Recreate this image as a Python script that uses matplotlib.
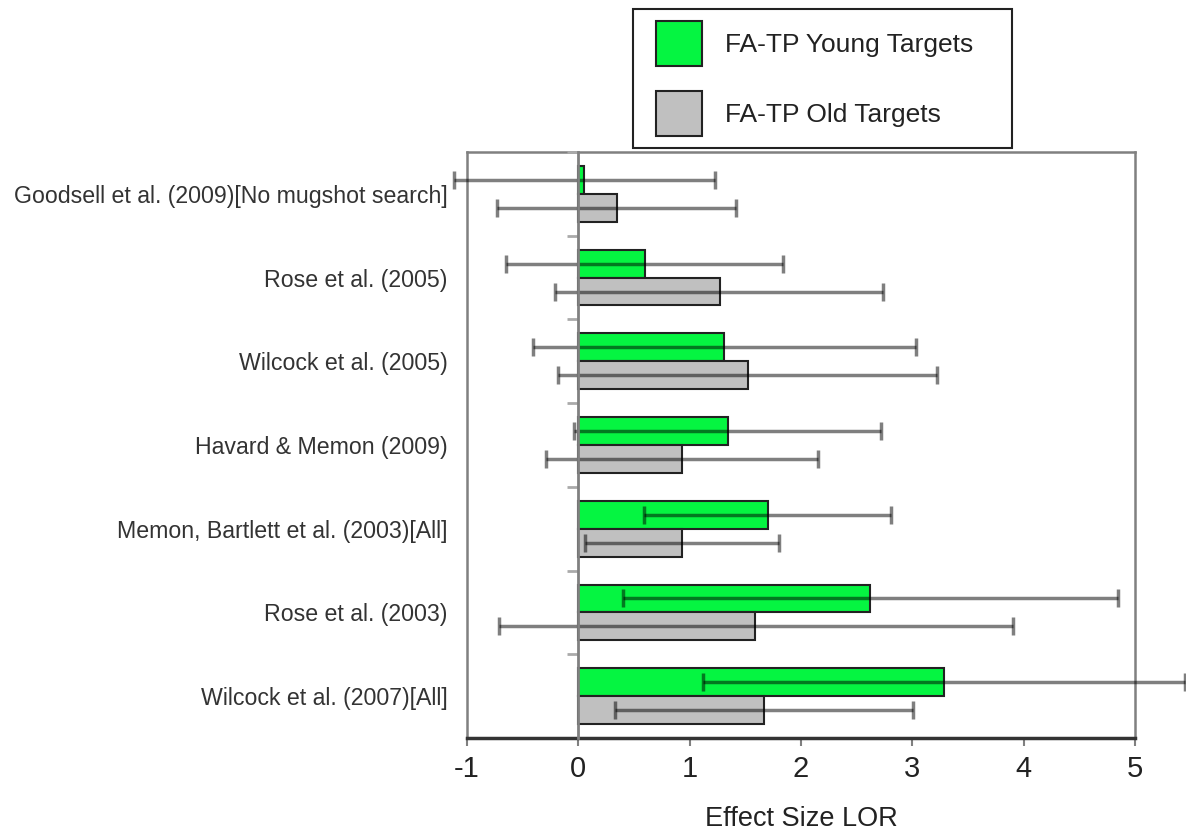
import numpy as np
import matplotlib
matplotlib.use('Agg')
import matplotlib.pyplot as plt
from matplotlib.patches import Patch, Rectangle
from matplotlib.legend_handler import HandlerPatch

plt.rcParams['font.family'] = ['Liberation Sans', 'DejaVu Sans']
plt.rcParams['axes.unicode_minus'] = False

studies = ['Goodsell et al. (2009)[No mugshot search]',
           'Rose et al. (2005)',
           'Wilcock et al. (2005)',
           'Havard & Memon (2009)',
           'Memon, Bartlett et al. (2003)[All]',
           'Rose et al. (2003)',
           'Wilcock et al. (2007)[All]']

# Effect sizes (log odds ratio) with lower / upper confidence limits
young_lor = [0.05, 0.60, 1.31, 1.34, 1.70, 2.62, 3.28]
young_lo = [-1.12, -0.65, -0.41, -0.04, 0.59, 0.40, 1.12]
young_hi = [1.23, 1.84, 3.03, 2.72, 2.81, 4.85, 5.45]

old_lor = [0.35, 1.27, 1.52, 0.93, 0.93, 1.59, 1.67]
old_lo = [-0.73, -0.21, -0.18, -0.29, 0.06, -0.71, 0.33]
old_hi = [1.42, 2.74, 3.22, 2.15, 1.80, 3.90, 3.01]

x_ticks = [-1, 0, 1, 2, 3, 4, 5]

green = '#05f541'
grey = '#c0c0c0'
frame_col = '#808080'

fig = plt.figure(figsize=(11.86, 8.38), dpi=100)
ax = fig.add_axes([0.3938, 0.1193, 0.5632, 0.6993])

y = np.arange(len(studies))
h = 1 / 3

series = [(young_lor, young_lo, young_hi, green, y - h / 2),
          (old_lor, old_lo, old_hi, grey, y + h / 2)]
for lor, lo, hi, col, ypos in series:
    lor = np.array(lor)
    err = [lor - np.array(lo), np.array(hi) - lor]
    ax.barh(ypos, lor, height=h, color=col, edgecolor='#222222',
            linewidth=1.5, zorder=2)
    eb = ax.errorbar(lor, ypos, xerr=err, fmt='none', ecolor='black',
                     alpha=0.5, elinewidth=2.5, capsize=6.5, capthick=2.5,
                     zorder=3)
    for art in list(eb.lines[1]) + list(eb.lines[2]):
        art.set_clip_on(False)

ax.set_xlim(-1, 5)
ax.set_ylim(len(studies) - 0.5, -0.5)

ax.set_yticks(y)
ax.set_yticklabels(studies, fontsize=16.7, color='#333333')
ax.tick_params(axis='y', length=0, pad=14)
ax.set_xticks(x_ticks)
ax.set_xticklabels([str(v) for v in x_ticks])
ax.tick_params(axis='x', labelsize=21, length=6, width=1.5, color=frame_col,
               pad=6, labelcolor='#222222')
ax.set_xlabel('Effect Size LOR', fontsize=19.5, labelpad=17, color='#222222')

for side in ['left', 'top', 'right']:
    ax.spines[side].set_color(frame_col)
    ax.spines[side].set_linewidth(1.8)
ax.spines['bottom'].set_color('#333333')
ax.spines['bottom'].set_linewidth(2.5)

# zero line with separator ticks between studies
ax2 = ax.twinx()
ax2.set_ylim(ax.get_ylim())
for side in ['top', 'right', 'bottom']:
    ax2.spines[side].set_visible(False)
ax2.spines['left'].set_position(('data', 0))
ax2.spines['left'].set_color(frame_col)
ax2.spines['left'].set_linewidth(2)
ax2.yaxis.set_ticks_position('left')
ax2.set_yticks(np.arange(-0.5, len(studies) - 0.5, 1))
ax2.set_yticklabels([])
ax2.tick_params(axis='y', length=8, width=2, color='#aaaaaa')


def shifted_patch(legend, orig_handle, xdescent, ydescent, width, height, fontsize):
    off = 8
    return Rectangle((-xdescent + off, -ydescent), width - off, height)


handles = [Patch(facecolor=green, edgecolor='#222222', linewidth=1.5),
           Patch(facecolor=grey, edgecolor='#222222', linewidth=1.5)]
leg = fig.legend(handles, ['FA-TP Young Targets', 'FA-TP Old Targets'],
                 loc='lower left', bbox_to_anchor=(0.5337, 0.8234, 0.3196, 0.165),
                 mode='expand', borderaxespad=0, fontsize=19,
                 handlelength=2.16, handleheight=2.25, handletextpad=0.87,
                 borderpad=0.45, labelspacing=0.95, fancybox=False,
                 framealpha=1, edgecolor='#222222',
                 handler_map={Patch: HandlerPatch(patch_func=shifted_patch)})
leg.get_frame().set_linewidth(1.5)
for t in leg.get_texts():
    t.set_color('#222222')

fig.savefig('out.png', dpi=100)
